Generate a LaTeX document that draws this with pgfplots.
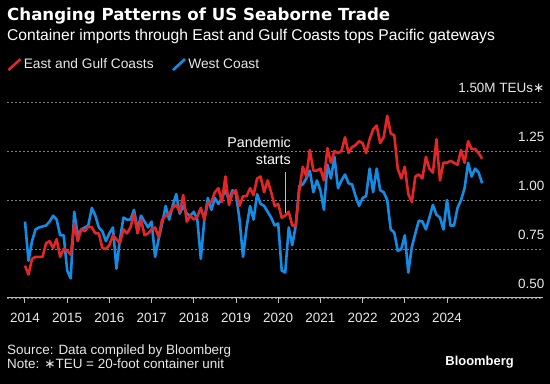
\documentclass[border=0pt]{standalone}
\usepackage{fontspec}
\setmainfont{Liberation Sans}
\newfontfamily\titlefont{DejaVu Sans}
\newcommand{\teuast}{{\titlefont\char"2217}}
\usepackage{pgfplots}
\usepackage{pgfplotstable}
\pgfplotsset{compat=1.18}
\definecolor{bbred}{RGB}{228,38,38}
\definecolor{bbblue}{RGB}{18,140,228}
\definecolor{gridgray}{RGB}{125,125,125}
\definecolor{axisgray}{RGB}{190,190,190}
\definecolor{txtgray}{RGB}{232,232,232}

\pgfplotstableread{
i e w
0 0.665 0.89
1 0.62 0.69
2 0.70 0.79
3 0.71 0.85
4 0.71 0.86
5 0.71 0.865
6 0.78 0.87
7 0.79 0.89
8 0.755 0.92
9 0.80 0.90
10 0.71 0.82
11 0.75 0.82
12 0.74 0.64
13 0.72 0.60
14 0.88 0.94
15 0.79 0.82
16 0.85 0.85
17 0.84 0.86
18 0.865 0.87
19 0.86 0.96
20 0.83 0.92
21 0.83 0.86
22 0.755 0.84
23 0.75 0.79
24 0.77 0.83
25 0.82 0.86
26 0.80 0.65
27 0.78 0.80
28 0.85 0.91
29 0.83 0.90
30 0.86 0.90
31 0.93 0.95
32 0.83 0.85
33 0.90 0.92
34 0.82 0.89
35 0.83 0.86
36 0.85 0.89
37 0.86 0.71
38 0.81 0.80
39 0.90 0.88
40 0.92 0.97
41 0.93 0.90
42 0.96 0.97
43 0.975 1.03
44 0.94 0.93
45 1.025 0.97
46 0.89 0.93
47 0.92 0.92
48 0.90 0.94
49 0.915 0.90
50 0.96 0.70
51 0.90 0.90
52 0.985 1.01
53 0.99 0.95
54 1.04 1.01
55 1.06 0.98
56 0.99 1.01
57 1.12 1.05
58 0.975 1.00
59 1.035 1.05
60 1.05 1.03
61 0.97 0.90
62 1.02 0.71
63 1.02 0.86
64 1.06 0.97
65 1.025 0.90
66 1.11 1.03
67 1.12 0.98
68 1.04 0.97
69 1.10 0.94
70 1.04 0.91
71 0.97 0.87
72 0.98 0.88
73 0.91 0.64
74 0.92 0.63
75 0.94 0.86
76 0.87 0.77
77 0.87 0.87
78 1.05 1.07
79 1.17 1.08
80 1.12 1.11
81 1.255 1.15
82 1.15 1.04
83 1.15 1.10
84 1.16 1.05
85 1.10 0.95
86 1.265 1.18
87 1.19 1.11
88 1.25 1.22
89 1.24 1.06
90 1.25 1.10
91 1.32 1.13
92 1.24 1.085
93 1.27 1.08
94 1.28 1.02
95 1.30 0.97
96 1.29 1.01
97 1.24 1.02
98 1.31 1.16
99 1.36 1.04
100 1.38 1.16
101 1.29 1.05
102 1.32 1.04
103 1.43 1.00
104 1.34 0.85
105 1.33 0.835
106 1.16 0.74
107 1.11 0.75
108 1.17 0.82
109 1.03 0.63
110 0.99 0.76
111 1.12 0.83
112 1.13 0.895
113 1.11 0.89
114 1.22 0.85
115 1.16 0.91
116 1.14 0.975
117 1.31 0.925
118 1.10 0.91
119 1.19 0.85
120 1.19 1.00
121 1.20 0.87
122 1.19 0.87
123 1.18 0.96
124 1.255 1.00
125 1.19 1.06
126 1.30 1.19
127 1.26 1.12
128 1.26 1.16
129 1.24 1.14
130 1.21 1.085
}\datatable

\begin{document}
\begin{tikzpicture}
\fill[black] (0bp,0bp) rectangle (550bp,384bp);
\begin{axis}[
  at={(7bp,86bp)}, anchor=south west,
  scale only axis, width=536bp, height=196bp,
  xmin=2013.5735, xmax=2026.2749, ymin=0.5, ymax=1.5,
  axis x line*=bottom, axis y line*=right,
  x axis line style={-, draw=axisgray, line width=1bp},
  y axis line style={draw=none},
  xtick={2014,2015,2016,2017,2018,2019,2020,2021,2022,2023,2024},
  xticklabels={2014,2015,2016,2017,2018,2019,2020,2021,2022,2023,2024},
  tick align=outside,
  major tick length=5bp,
  xtick style={draw=axisgray, line width=1bp},
  xticklabel style={anchor=north, inner sep=0pt, yshift=-10bp, text=txtgray, font=\fontsize{13.5}{15}\selectfont},
  ytick={0.5,0.75,1,1.25,1.5},
  yticklabels={0.50,0.75,1.00,1.25,{1.50M TEUs\teuast}},
  ytick style={draw=none},
  yticklabel style={anchor=south east, inner sep=0pt, xshift=-3.5bp, yshift=9bp, text=txtgray, font=\fontsize{13.5}{15}\selectfont},
  /pgf/number format/assume math mode=true,
  ymajorgrids,
  grid style={gridgray, line width=0.8bp, dash pattern=on 2bp off 2bp},
  legend columns=2,
  legend image code/.code={\draw[#1, line width=2.6bp] (0bp,-5.5bp) -- (12bp,5.5bp);},
  legend style={at={(0,1.191)}, anchor=west, draw=none, fill=none, inner sep=0pt,
    nodes={inner sep=2bp, text=txtgray, font=\fontsize{13.8}{15}\selectfont},
    /tikz/every even column/.append style={column sep=16bp}},
  legend cell align=left,
]
\addlegendimage{bbred}
\addlegendentry{East and Gulf Coasts}
\addlegendimage{bbblue}
\addlegendentry{West Coast}
\addplot[bbblue, line width=2.6bp, line join=round, forget plot] table[x expr=2014+\thisrow{i}/12, y=w] {\datatable};
\addplot[bbred, line width=2.6bp, line join=round, forget plot] table[x expr=2014+\thisrow{i}/12, y=e] {\datatable};
\draw[axisgray, line width=1bp] (axis cs:2020.1667,1.143) -- (axis cs:2020.1667,0.934);
\end{axis}
\node[anchor=base west, inner sep=0pt, text=white, font=\titlefont\bfseries\fontsize{16.7}{19}\selectfont] at (7bp,363.5bp) {Changing Patterns of US Seaborne Trade};
\node[anchor=base west, inner sep=0pt, text=white, font=\fontsize{15.7}{18}\selectfont] at (7bp,343.5bp) {Container imports through East and Gulf Coasts tops Pacific gateways};
\node[anchor=base east, inner sep=0pt, text=white, font=\fontsize{14.3}{16}\selectfont] at (291bp,236bp) {Pandemic};
\node[anchor=base east, inner sep=0pt, text=white, font=\fontsize{14.3}{16}\selectfont] at (291bp,219bp) {starts};
\node[anchor=base west, inner sep=0pt, text=txtgray, font=\fontsize{13.5}{15}\selectfont] at (7bp,30bp) {Source: Data compiled by Bloomberg};
\node[anchor=base west, inner sep=0pt, text=txtgray, font=\fontsize{13.5}{15}\selectfont] at (7bp,16bp) {Note: \teuast TEU = 20-foot container unit};
\node[anchor=base east, inner sep=0pt, text=white, font=\bfseries\fontsize{13}{15}\selectfont] at (514bp,19bp) {Bloomberg};
\pgfresetboundingbox
\useasboundingbox (0bp,0bp) rectangle (550bp,384bp);
\end{tikzpicture}
\end{document}
